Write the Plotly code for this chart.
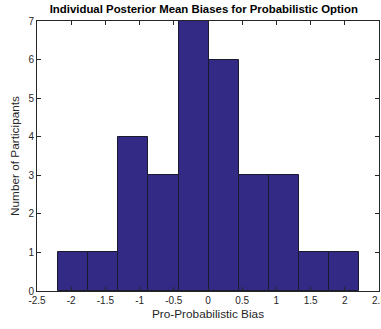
import plotly.graph_objects as go

bin_edges = [-2.19, -1.75, -1.31, -0.87, -0.43, 0.01, 0.45, 0.89, 1.33, 1.77, 2.21]
counts = [1, 1, 4, 3, 7, 6, 3, 3, 1, 1]
x_ticks = [-2.5, -2, -1.5, -1, -0.5, 0, 0.5, 1, 1.5, 2, 2.5]
x_tick_labels = ["-2.5", "-2", "-1.5", "-1", "-0.5", "0", "0.5", "1", "1.5", "2", "2.5"]
y_ticks = [0, 1, 2, 3, 4, 5, 6, 7]

centers = [(a + b) / 2 for a, b in zip(bin_edges[:-1], bin_edges[1:])]
widths = [b - a for a, b in zip(bin_edges[:-1], bin_edges[1:])]

fig = go.Figure(go.Bar(
    x=centers, y=counts, width=widths,
    marker=dict(color="#332a85", line=dict(color="#1a1a2e", width=1)),
))

font = "Liberation Sans, Arial, sans-serif"
fig.update_layout(
    width=381, height=329,
    margin=dict(l=37, r=2, t=21, b=38),
    paper_bgcolor="white", plot_bgcolor="white",
    showlegend=False,
    font=dict(family=font, size=10, color="#262626"),
    title=dict(text="<b>Individual Posterior Mean Biases for Probabilistic Option</b>",
               x=0.535, xanchor="center", y=0.985, yanchor="top",
               font=dict(family=font, size=11.4, color="black")),
    bargap=0,
)
fig.update_xaxes(
    range=[-2.5, 2.5], tickvals=x_ticks, ticktext=x_tick_labels,
    ticks="inside", ticklen=4, tickcolor="#262626",
    showline=True, linecolor="#262626", linewidth=1, mirror="ticks",
    showgrid=False, zeroline=False, ticklabeloverflow="allow", automargin=False,
    title=dict(text="Pro-Probabilistic Bias", font=dict(size=11.8, family=font, color="#262626"), standoff=4),
)
fig.update_yaxes(
    range=[0, 7], tickvals=y_ticks,
    ticks="inside", ticklen=4, tickcolor="#262626",
    showline=True, linecolor="#262626", linewidth=1, mirror="ticks",
    showgrid=False, zeroline=False, automargin=False,
    title=dict(text="Number of Participants", font=dict(size=11.8, family=font, color="#262626"), standoff=6),
)
fig.write_html("out.html")
